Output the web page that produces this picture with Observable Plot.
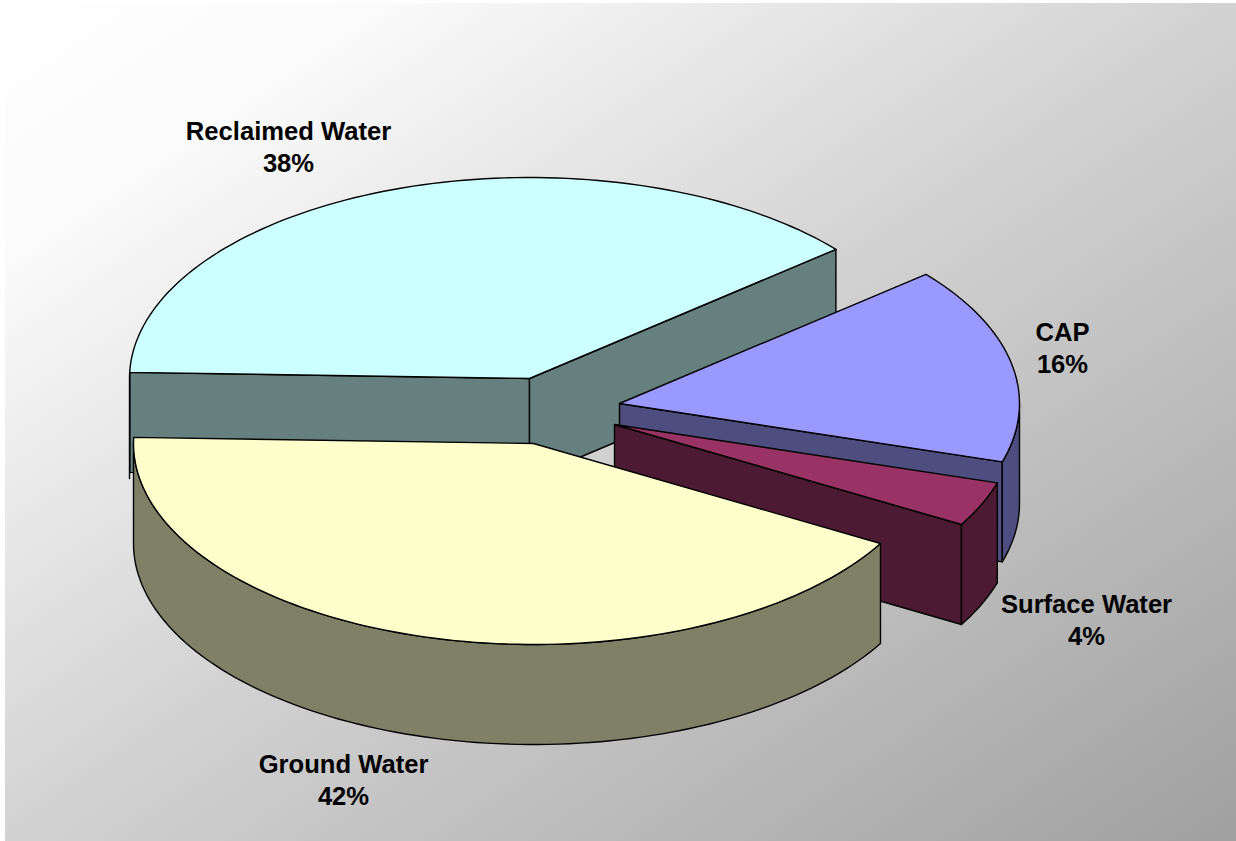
<!DOCTYPE html>
<html>
<head>
<meta charset="utf-8">
<style>
html,body{margin:0;padding:0;background:#fff;}
svg{display:block;}
</style>
<script src="https://cdn.jsdelivr.net/npm/d3@7"></script>
<script src="https://cdn.jsdelivr.net/npm/@observablehq/plot@0.6"></script>
</head>
<body>
<div id="chart"></div>
<script>
// Data
const categories = ["Reclaimed Water", "Ground Water", "Surface Water", "CAP"];
const shownPercent = [38, 42, 4, 16];
const estimatedShare = [38.4, 42.2, 3.6, 15.8];

// Styles
const topColors = ["#CCFFFF", "#FFFFCC", "#993366", "#9999FF"];
const sideColors = ["#668080", "#808066", "#4D1A33", "#4D4D80"];

// Layout of the exploded 3-D pie
const W = 1236, H = 841;
const firstAngle = 40, radiusX = 400, radiusY = 201, depth = 100;
const centers = [[529, 378], [533, 443], [614, 424], [619, 403]];
const labelCenters = [[288, 145], [343, 778], [1086, 618], [1062, 346]];

// Slice angles from the shares (counter-clockwise, degrees)
let running = firstAngle;
const slices = categories.map((name, i) => {
  const a0 = running;
  running += estimatedShare[i] * 3.6;
  return {name, i, a0, a1: running, c: centers[i]};
});

const rim = (s, deg, drop = 0) => {
  const r = deg * Math.PI / 180;
  return [s.c[0] + radiusX * Math.cos(r), s.c[1] - radiusY * Math.sin(r) + drop];
};
const arc = (a, b) => {
  const n = Math.max(2, Math.ceil(Math.abs(b - a) / 1.5));
  return d3.range(n + 1).map(k => a + (b - a) * k / n);
};

const faces = [];
const addFace = (pts, fill) => {
  const id = faces.length;
  faces.push(...pts.concat([pts[0]]).map(p => ({id, x: p[0], y: p[1], fill})));
};
const topFace = s => addFace([s.c, ...arc(s.a0, s.a1).map(a => rim(s, a))], topColors[s.i]);
const radialWall = (s, a) => addFace(
  [s.c, rim(s, a), rim(s, a, depth), [s.c[0], s.c[1] + depth]], sideColors[s.i]);
const outerWall = (s, a, b) => addFace(
  [...arc(a, b).map(t => rim(s, t)), ...arc(b, a).map(t => rim(s, t, depth))], sideColors[s.i]);

const [reclaimed, ground, surface, cap] = slices;

// Painter's order: back to front
radialWall(reclaimed, reclaimed.a1);
outerWall(reclaimed, reclaimed.a1, 180);
radialWall(reclaimed, reclaimed.a0);
topFace(reclaimed);

radialWall(cap, cap.a0);
outerWall(cap, cap.a0, 360);
topFace(cap);

radialWall(surface, surface.a0);
outerWall(surface, surface.a0, surface.a1);
topFace(surface);

outerWall(ground, 180, ground.a1);
topFace(ground);

const labels = categories.map((name, i) => ({
  text: `${name}\n${shownPercent[i]}%`,
  x: labelCenters[i][0],
  y: labelCenters[i][1]
}));

const chart = Plot.plot({
  width: W,
  height: H,
  margin: 0,
  x: {domain: [0, W], range: [0, W], axis: null},
  y: {domain: [0, H], range: [0, H], axis: null},
  color: {type: "identity"},
  style: {background: "linear-gradient(to bottom right, #ffffff 0%, #fbfbfb 15%, #d2d2d2 50%, #a0a0a0 100%) 5px 3px / 1231px 838px no-repeat #fff"},
  marks: [
    Plot.line(faces, {
      x: "x", y: "y", z: "id", fill: "fill",
      stroke: "#000", strokeWidth: 1.4, strokeLinejoin: "round"
    }),
    Plot.text(labels, {
      x: "x", y: "y", text: "text",
      fontFamily: "'Liberation Sans', Arial, sans-serif",
      fontWeight: "bold", fontSize: 25.6, lineHeight: 1.25,
      fill: "#000", textAnchor: "middle"
    })
  ]
});
document.getElementById("chart").appendChild(chart);
</script>
</body>
</html>
